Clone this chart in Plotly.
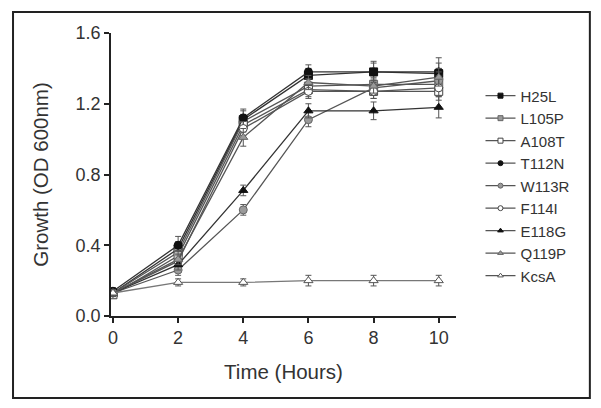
import plotly.graph_objects as go

hours = [0, 2, 4, 6, 8, 10]
series_names = ["H25L", "L105P", "A108T", "T112N", "W113R", "F114I", "E118G", "Q119P", "KcsA"]
h25l = [0.13, 0.38, 1.11, 1.36, 1.38, 1.37]
l105p = [0.13, 0.36, 1.10, 1.30, 1.31, 1.31]
a108t = [0.12, 0.34, 1.08, 1.28, 1.27, 1.27]
t112n = [0.14, 0.40, 1.12, 1.38, 1.38, 1.38]
w113r = [0.13, 0.26, 0.60, 1.11, 1.29, 1.33]
f114i = [0.13, 0.31, 1.06, 1.27, 1.27, 1.29]
e118g = [0.13, 0.29, 0.71, 1.16, 1.16, 1.18]
q119p = [0.13, 0.32, 1.01, 1.32, 1.30, 1.35]
kcsa = [0.13, 0.19, 0.19, 0.20, 0.20, 0.20]
err_h25l = [0.02, 0.04, 0.05, 0.04, 0.05, 0.06]
err_l105p = [0.02, 0.03, 0.04, 0.04, 0.04, 0.05]
err_a108t = [0.02, 0.03, 0.04, 0.04, 0.04, 0.05]
err_t112n = [0.02, 0.05, 0.05, 0.04, 0.06, 0.08]
err_w113r = [0.02, 0.03, 0.03, 0.04, 0.04, 0.05]
err_f114i = [0.02, 0.03, 0.04, 0.04, 0.04, 0.05]
err_e118g = [0.02, 0.03, 0.03, 0.04, 0.05, 0.06]
err_q119p = [0.02, 0.03, 0.05, 0.04, 0.04, 0.05]
err_kcsa = [0.01, 0.02, 0.02, 0.03, 0.03, 0.03]

values = [h25l, l105p, a108t, t112n, w113r, f114i, e118g, q119p, kcsa]
errors = [err_h25l, err_l105p, err_a108t, err_t112n, err_w113r, err_f114i, err_e118g, err_q119p, err_kcsa]
symbols = ["square", "square", "square", "circle", "circle", "circle",
           "triangle-up", "triangle-up", "triangle-up"]
fills = ["#111111", "#9a9a9a", "#ffffff", "#111111", "#9a9a9a", "#ffffff",
         "#111111", "#9a9a9a", "#ffffff"]
outlines = ["#111111", "#666666", "#444444", "#111111", "#666666", "#444444",
            "#111111", "#666666", "#555555"]
line_colors = ["#333333", "#555555", "#555555", "#333333", "#555555", "#555555",
               "#333333", "#555555", "#777777"]

fig = go.Figure()
for name, y, e, sym, fc, oc, lc in zip(series_names, values, errors, symbols, fills, outlines, line_colors):
    fig.add_trace(go.Scatter(
        x=hours, y=y, name=name, mode="lines+markers", showlegend=False,
        line=dict(color=lc, width=1.3),
        marker=dict(symbol=sym, size=8, color=fc, line=dict(color=oc, width=1)),
        error_y=dict(type="data", array=e, visible=True, thickness=1, width=3, color="#555555"),
    ))
# legend entries with small markers, as in the reference
for name, sym, fc, oc in zip(series_names, symbols, fills, outlines):
    fig.add_trace(go.Scatter(
        x=[None], y=[None], name=name, mode="lines+markers",
        line=dict(color="#555555", width=1.3),
        marker=dict(symbol=sym, size=5, color=fc, line=dict(color=oc, width=1)),
    ))

fig.update_layout(
    width=593, height=400,
    margin=dict(l=103, r=145, t=25, b=92),
    paper_bgcolor="white", plot_bgcolor="white",
    font=dict(family="Liberation Sans, Arial, sans-serif", color="#333333", size=18),
    showlegend=True,
    legend=dict(x=1.071, y=0.836, xanchor="left", yanchor="top",
                font=dict(size=15, color="#333333"), tracegroupgap=0,
                itemwidth=30, bgcolor="rgba(0,0,0,0)"),
    xaxis=dict(range=[-0.06, 10.53], tickvals=[0, 2, 4, 6, 8, 10],
               showline=True, linecolor="#222222", linewidth=1.5,
               ticks="outside", ticklen=5, tickcolor="#222222", tickwidth=1.5,
               showgrid=False, zeroline=False,
               title=dict(text="Time (Hours)", font=dict(size=20.5), standoff=17),
               tickfont=dict(size=18)),
    yaxis=dict(range=[0, 1.6], tickvals=[0, 0.4, 0.8, 1.2, 1.6], tickformat=".1f",
               showline=True, linecolor="#222222", linewidth=1.5,
               ticks="outside", ticklen=5, tickcolor="#222222", tickwidth=1.5,
               showgrid=False, zeroline=False,
               title=dict(text="Growth (OD 600nm)", font=dict(size=20.5), standoff=21),
               tickfont=dict(size=18)),
    shapes=[dict(type="rect", xref="paper", yref="paper",
                 x0=-0.284, x1=1.388, y0=-0.290, y1=1.074,
                 line=dict(color="#222222", width=2), fillcolor="rgba(0,0,0,0)")],
)

fig.write_html("out.html")
